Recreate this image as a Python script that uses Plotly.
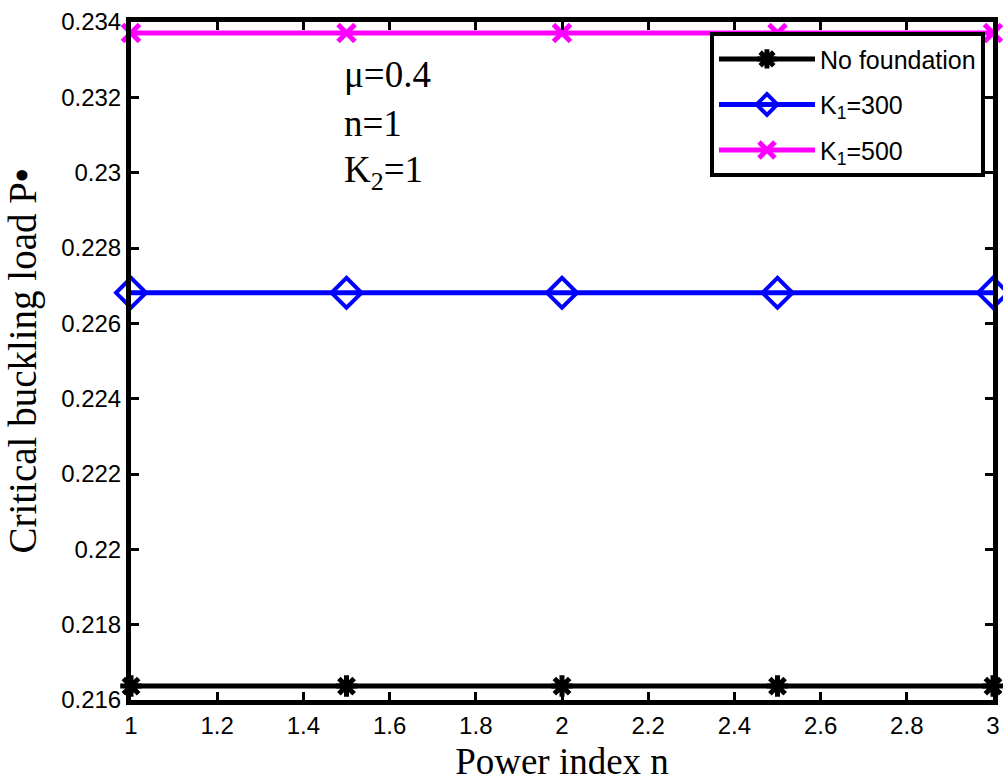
import plotly.graph_objects as go

power_index = [1, 1.5, 2, 2.5, 3]
no_foundation = [0.21637, 0.21637, 0.21637, 0.21637, 0.21637]
k1_300 = [0.22681, 0.22681, 0.22681, 0.22681, 0.22681]
k1_500 = [0.23371, 0.23371, 0.23371, 0.23371, 0.23371]

x_ticks = [1, 1.2, 1.4, 1.6, 1.8, 2, 2.2, 2.4, 2.6, 2.8, 3]
x_ticklabels = ["1", "1.2", "1.4", "1.6", "1.8", "2", "2.2", "2.4", "2.6", "2.8", "3"]
y_ticks = [0.216, 0.218, 0.22, 0.222, 0.224, 0.226, 0.228, 0.23, 0.232, 0.234]
y_ticklabels = ["0.216", "0.218", "0.22", "0.222", "0.224", "0.226", "0.228", "0.23", "0.232", "0.234"]

notes = ["μ=0.4", "n=1", "K<sub>2</sub>=1"]
note_y = [0.2326, 0.2313, 0.2300]

serif = "Liberation Serif, Times New Roman, serif"
sans = "Liberation Sans, Arial, sans-serif"

fig = go.Figure()
fig.add_trace(go.Scatter(
    x=power_index, y=no_foundation, name="No foundation", mode="lines+markers",
    legendgroup="a",
    line=dict(color="black", width=5),
    marker=dict(symbol="asterisk-open", size=18, color="black", line=dict(color="black", width=5)),
    cliponaxis=False))
fig.add_trace(go.Scatter(
    x=power_index, y=k1_300, name="K<sub>1</sub>=300", mode="lines+markers",
    legendgroup="b",
    line=dict(color="#0000ff", width=5),
    marker=dict(symbol="diamond-open", size=23, color="#0000ff", line=dict(color="#0000ff", width=4)),
    cliponaxis=False))
fig.add_trace(go.Scatter(
    x=power_index, y=k1_500, name="K<sub>1</sub>=500", mode="lines+markers",
    legendgroup="c",
    line=dict(color="#ff00ff", width=5),
    marker=dict(symbol="x-thin-open", size=17, color="#ff00ff", line=dict(color="#ff00ff", width=5)),
    cliponaxis=False))

for txt, yv in zip(notes, note_y):
    fig.add_annotation(x=1.49, y=yv, xref="x", yref="y",
                       text=txt, showarrow=False, xanchor="left", yanchor="middle",
                       font=dict(family=serif, size=37, color="black"))

fig.update_layout(
    width=1003, height=782,
    margin=dict(l=131, r=10, t=22, b=82, autoexpand=False),
    paper_bgcolor="white", plot_bgcolor="white",
    showlegend=True,
    legend=dict(x=0.9907, y=0.985, xanchor="right", yanchor="top",
                bgcolor="white", bordercolor="black", borderwidth=4,
                font=dict(family=sans, size=25, color="black"),
                itemwidth=96, tracegroupgap=10),
    xaxis=dict(range=[1, 3], tickvals=x_ticks, ticktext=x_ticklabels, automargin=False,
               showline=True, linecolor="black", linewidth=5, mirror="ticks",
               ticks="inside", ticklen=8, tickwidth=3, tickcolor="black",
               showgrid=False, zeroline=False,
               tickfont=dict(family=sans, size=24, color="black"),
               title=dict(text="Power index n", font=dict(family=serif, size=37, color="black"), standoff=14)),
    yaxis=dict(range=[0.216, 0.234], tickvals=y_ticks, ticktext=y_ticklabels, automargin=False,
               showline=True, linecolor="black", linewidth=5, mirror="ticks",
               ticks="inside", ticklen=8, tickwidth=3, tickcolor="black",
               showgrid=False, zeroline=False,
               tickfont=dict(family=sans, size=24, color="black"),
               title=dict(text="Critical buckling load P<b>•</b>", font=dict(family=serif, size=39, color="black"), standoff=14)),
)

fig.write_html("out.html", config={"displayModeBar": False},
               post_script="document.body.style.margin='0px';document.body.style.overflow='hidden';")
